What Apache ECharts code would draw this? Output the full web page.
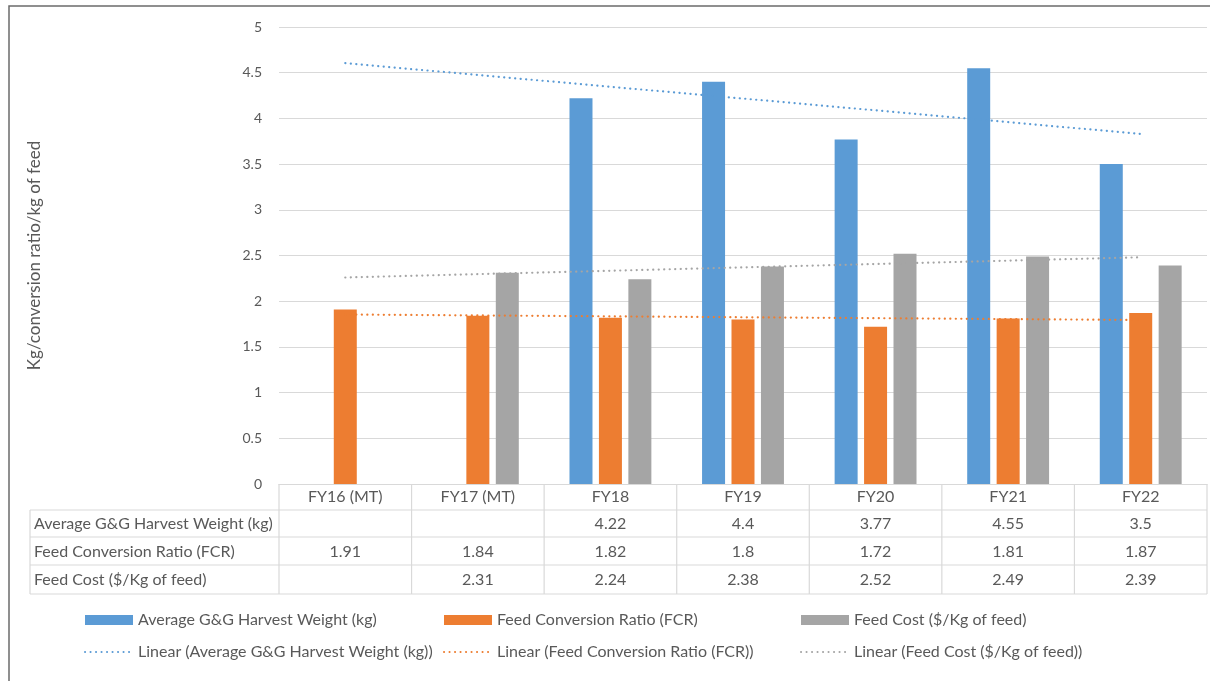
<!DOCTYPE html>
<html>
<head>
<meta charset="utf-8">
<script src="https://cdn.jsdelivr.net/npm/echarts@6/dist/echarts.min.js"></script>
<style>
  html, body { margin: 0; padding: 0; background: #ffffff; }
  #chart { width: 1210px; height: 681px; }
</style>
</head>
<body>
<div id="chart"></div>
<script>
// Categories and series values
const categories = ['FY16 (MT)', 'FY17 (MT)', 'FY18', 'FY19', 'FY20', 'FY21', 'FY22'];
const harvestWeight = [null, null, 4.22, 4.4, 3.77, 4.55, 3.5];
const fcr = [1.91, 1.84, 1.82, 1.8, 1.72, 1.81, 1.87];
const feedCost = [null, 2.31, 2.24, 2.38, 2.52, 2.49, 2.39];

const seriesNames = [
  'Average G&G Harvest Weight (kg)',
  'Feed Conversion Ratio (FCR)',
  'Feed Cost ($/Kg of feed)'
];
const seriesValues = [harvestWeight, fcr, feedCost];
const colors = ['#5B9BD5', '#ED7D31', '#A5A5A5'];
const yAxisTitle = 'Kg/conversion ratio/kg of feed';

const FONT = 'Lato';
const TEXT = '#595959';
const RULE = '#d9d9d9';

// Least-squares linear trend over category positions 1..n
function linearTrend(values) {
  const pts = [];
  values.forEach((v, i) => { if (v != null) pts.push([i + 1, v]); });
  const n = pts.length;
  const mx = pts.reduce((s, p) => s + p[0], 0) / n;
  const my = pts.reduce((s, p) => s + p[1], 0) / n;
  let sxy = 0, sxx = 0;
  pts.forEach(p => { sxy += (p[0] - mx) * (p[1] - my); sxx += (p[0] - mx) * (p[0] - mx); });
  const slope = sxy / sxx;
  return values.map((_, i) => +(my + slope * (i + 1 - mx)).toFixed(4));
}

// Layout of plot area and data table
const GRID_LEFT = 279, GRID_RIGHT_X = 1207, GRID_TOP = 27, AXIS_Y = 484;
const TABLE_LEFT = 30;
const rowLines = [510, 537, 565, 594];

const chart = echarts.init(document.getElementById('chart'));

const barSeries = seriesNames.map((name, k) => ({
  name: name,
  type: 'bar',
  data: seriesValues[k],
  barWidth: 23,
  barGap: '28%',
  itemStyle: { color: colors[k] },
  emphasis: { disabled: true }
}));

const trendSeries = seriesNames.map((name, k) => ({
  name: 'Linear (' + name + ')',
  type: 'line',
  data: linearTrend(seriesValues[k]),
  symbol: 'none',
  silent: true,
  z: 5,
  itemStyle: { color: colors[k] },
  lineStyle: { color: colors[k], width: 2.2, type: [0.1, 5.4], cap: 'round' },
  emphasis: { disabled: true }
}));

// Data table drawn below the category axis
const graphics = [];
const colW = (GRID_RIGHT_X - GRID_LEFT) / categories.length;
// outer frame
graphics.push({
  type: 'polyline', silent: true,
  shape: { points: [[9, 700], [9, 6], [1215, 6]] },
  style: { stroke: '#6b6b6b', lineWidth: 1.5, fill: null }
});
// horizontal rules
rowLines.forEach(y => graphics.push({
  type: 'line', silent: true,
  shape: { x1: TABLE_LEFT, y1: y, x2: GRID_RIGHT_X, y2: y },
  style: { stroke: RULE, lineWidth: 1.2 }
}));
// vertical rules
graphics.push({ type: 'line', silent: true,
  shape: { x1: TABLE_LEFT, y1: rowLines[0], x2: TABLE_LEFT, y2: rowLines[3] },
  style: { stroke: RULE, lineWidth: 1.2 } });
for (let i = 0; i <= categories.length; i++) {
  const x = GRID_LEFT + i * colW;
  graphics.push({ type: 'line', silent: true,
    shape: { x1: x, y1: AXIS_Y, x2: x, y2: rowLines[3] },
    style: { stroke: RULE, lineWidth: 1.2 } });
}
// row labels and cell values
seriesNames.forEach((name, k) => {
  const yMid = (rowLines[k] + rowLines[k + 1]) / 2 + 0.5;
  graphics.push({ type: 'text', silent: true, x: 34, y: yMid,
    style: { text: name, font: '16px ' + FONT, fill: TEXT, verticalAlign: 'middle', align: 'left' } });
  seriesValues[k].forEach((v, i) => {
    if (v == null) return;
    graphics.push({ type: 'text', silent: true, x: GRID_LEFT + (i + 0.5) * colW, y: yMid,
      style: { text: String(v), font: '16px ' + FONT, fill: TEXT, verticalAlign: 'middle', align: 'center' } });
  });
});

const legendText = { color: TEXT, fontFamily: FONT, fontSize: 16, lineHeight: 18 };
const legendLefts = [84, 443, 800];
const hiddenSymbol = { opacity: 0, borderWidth: 0 };
const legends = seriesNames.map((name, k) => ({
  orient: 'vertical',
  left: legendLefts[k],
  top: 611,
  padding: 0,
  itemWidth: 48,
  itemHeight: 10,
  itemGap: 14,
  selectedMode: false,
  textStyle: legendText,
  data: [
    { name: name, icon: 'rect' },
    { name: 'Linear (' + name + ')', itemStyle: hiddenSymbol }
  ]
}));

chart.setOption({
  animation: false,
  backgroundColor: '#ffffff',
  textStyle: { fontFamily: FONT },
  grid: { left: GRID_LEFT, right: 1210 - GRID_RIGHT_X, top: GRID_TOP, bottom: 681 - AXIS_Y },
  legend: legends,
  xAxis: {
    type: 'category',
    data: categories,
    axisLine: { show: true, lineStyle: { color: RULE, width: 1.2 } },
    axisTick: { show: false },
    axisLabel: { color: TEXT, fontSize: 16, fontFamily: FONT, margin: 5 }
  },
  yAxis: {
    type: 'value',
    min: 0, max: 5, interval: 0.5,
    name: yAxisTitle,
    nameLocation: 'middle',
    nameRotate: 90,
    nameGap: 236,
    nameTextStyle: { color: TEXT, fontSize: 17, fontFamily: FONT },
    axisLine: { show: false },
    axisTick: { show: false },
    axisLabel: { color: TEXT, fontSize: 14, fontFamily: FONT, margin: 17 },
    splitLine: { lineStyle: { color: RULE, width: 1.2 } }
  },
  series: barSeries.concat(trendSeries),
  graphic: graphics
});
</script>
</body>
</html>
